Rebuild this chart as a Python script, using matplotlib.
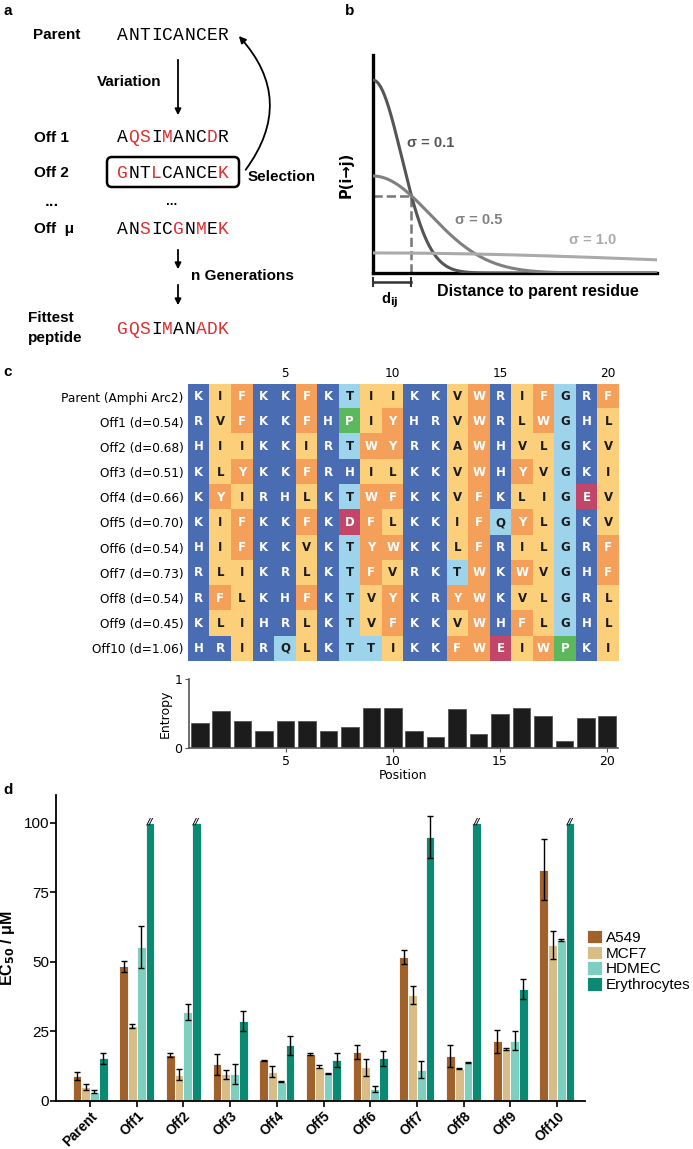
import numpy as np
import matplotlib.pyplot as plt
from matplotlib.patches import FancyArrowPatch, FancyBboxPatch

W, H = 693, 1149

# ---- panel a: evolution scheme ----
parent_seq = "ANTICANCER"
off1_seq = "AQSIMANCDR"
off2_seq = "GNTLCANCEK"
offmu_seq = "ANSICGNMEK"
fittest_seq = "GQSIMANADK"
# 1 = mutated residue (red)
parent_red = "0000000000"
off1_red = "0110100010"
off2_red = "1001000001"
offmu_red = "0010010101"
fittest_red = "1110100111"

# ---- panel b: sampling distributions ----
sigma_labels = ['σ = 0.1', 'σ = 0.5', 'σ = 1.0']
curve_peak = [0.885, 0.445, 0.092]
curve_width = [0.1, 0.2, 1.09]
curve_colors = ['#555555', '#808080', '#aaaaaa']

# ---- panel c: sequences ----
row_labels = ['Parent (Amphi Arc2)', 'Off1 (d=0.54)', 'Off2 (d=0.68)', 'Off3 (d=0.51)',
              'Off4 (d=0.66)', 'Off5 (d=0.70)', 'Off6 (d=0.54)', 'Off7 (d=0.73)',
              'Off8 (d=0.54)', 'Off9 (d=0.45)', 'Off10 (d=1.06)']
sequences = ["KIFKKFKTIIKKVWRIFGRF",
             "RVFKKFHPIYHRVWRLWGHL",
             "HIIKKIRTWYRKAWHVLGKV",
             "KLYKKFRHILKKVWHYVGKI",
             "KYIRHLKTWFKKVFKLIGEV",
             "KIFKKFKDFLKKIFQYLGKV",
             "HIFKKVKTYWKKLFRILGRF",
             "RLIKRLKTFVRKTWKWVGHF",
             "RFLKHFKTVYKRYWKVLGRL",
             "KLIHRLKTVFKKVWHFLGHL",
             "HRIRQLKTTIKKFWEIWPKI"]
entropy = [0.36, 0.54, 0.39, 0.25, 0.39, 0.39, 0.25, 0.30, 0.58, 0.58,
           0.25, 0.16, 0.56, 0.20, 0.50, 0.58, 0.47, 0.10, 0.43, 0.46]

# ---- panel d: EC50 ----
peptides = ['Parent', 'Off1', 'Off2', 'Off3', 'Off4', 'Off5', 'Off6', 'Off7', 'Off8', 'Off9', 'Off10']
cell_lines = ['A549', 'MCF7', 'HDMEC', 'Erythrocytes']
a549 = [9.0, 48.4, 16.5, 13.2, 14.6, 17.0, 17.6, 51.7, 16.3, 21.4, 83.2]
a549_err = [1.5, 2.0, 0.8, 3.8, 0.3, 0.3, 2.4, 2.5, 3.9, 4.2, 11.0]
mcf7 = [5.1, 27.0, 9.4, 9.6, 10.6, 12.3, 12.1, 38.1, 11.6, 18.6, 56.2]
mcf7_err = [1.0, 0.6, 2.0, 1.6, 2.0, 0.5, 3.0, 3.3, 0.2, 0.3, 5.0]
hdmec = [3.3, 55.4, 32.0, 9.7, 6.9, 9.9, 4.4, 11.3, 13.8, 21.6, 58.0]
hdmec_err = [0.5, 7.5, 3.0, 3.5, 0.2, 0.3, 1.0, 3.0, 0.3, 3.4, 0.4]
ery = [15.3, 100, 100, 28.8, 20.0, 14.7, 15.3, 95.0, 100, 40.2, 100]
ery_err = [2.0, 0, 0, 3.7, 3.5, 2.5, 2.6, 7.5, 0, 3.5, 0]
ery_capped = [0, 1, 1, 0, 0, 0, 0, 0, 1, 0, 1]   # beyond tested range (//)
bar_colors = ['#a0612a', '#d9bd88', '#7fcfc1', '#0a8a73']


def rect(x0, y0, x1, y1):
    return [x0 / W, 1 - y1 / H, (x1 - x0) / W, (y1 - y0) / H]


fig = plt.figure(figsize=(W / 100, H / 100), dpi=100)
arial = 'Liberation Sans'

for lab, (x, y) in zip('abcd', [(3, 11), (345, 11), (3, 372), (3, 790)]):
    fig.text(x / W, 1 - y / H, lab, fontsize=11, fontweight='bold', family=arial,
             ha='left', va='center')

# ================= panel a =================
axa = fig.add_axes(rect(0, 0, 340, 345))
axa.set_xlim(0, 340)
axa.set_ylim(345, 0)
axa.axis('off')

red = '#dd3030'
pitch = 11.2
seq_x0 = 117
rows_a = [(parent_seq, parent_red, 35), (off1_seq, off1_red, 138), (off2_seq, off2_red, 173),
          (offmu_seq, offmu_red, 229), (fittest_seq, fittest_red, 329)]
for seq, mask, y in rows_a:
    for i, (ch, m) in enumerate(zip(seq, mask)):
        axa.text(seq_x0 + (i + 0.5) * pitch, y, ch, family='Liberation Mono', fontsize=13,
                 color=red if m == '1' else 'black', ha='center', va='center')

lbl_kw = dict(fontsize=11, fontweight='bold', family=arial, va='center', ha='left')
axa.text(33, 35, 'Parent', **lbl_kw)
axa.text(34, 138, 'Off 1', **lbl_kw)
axa.text(34, 173, 'Off 2', **lbl_kw)
axa.text(34, 229, 'Off  μ', **lbl_kw)
axa.text(28, 318, 'Fittest', **lbl_kw)
axa.text(28, 338, 'peptide', **lbl_kw)
axa.text(97, 82, 'Variation', **lbl_kw)
axa.text(248, 177, 'Selection', **lbl_kw)
axa.text(191, 276, 'n Generations', **lbl_kw)
axa.text(52, 202, '...', fontsize=9, fontweight='bold', ha='center', va='center')
axa.text(172, 202, '...', fontsize=7, fontweight='bold', ha='center', va='center')

for y0, y1 in [(57, 118), (247, 272), (282, 308)]:
    axa.annotate('', xy=(178, y1), xytext=(178, y0),
                 arrowprops=dict(arrowstyle='-|>', color='black', lw=1.3, mutation_scale=9))

axa.add_patch(FancyBboxPatch((107, 157), 132, 30, boxstyle='round,pad=0,rounding_size=5',
                             fill=False, lw=1.8, ec='black'))
axa.add_patch(FancyArrowPatch((244, 172), (237, 34), connectionstyle='arc3,rad=0.42',
                              arrowstyle='-|>', mutation_scale=10, lw=1.3, color='black'))

# ================= panel b =================
axb = fig.add_axes(rect(373, 55, 657, 273))
xs = np.linspace(0, 1, 400)
curves = []
for pk, wd, col in zip(curve_peak, curve_width, curve_colors):
    yv = pk * np.exp(-xs ** 2 / (2 * wd ** 2))
    curves.append(yv)
    axb.plot(xs, yv, color=col, lw=2.2, zorder=3)
axb.set_xlim(0, 1)
axb.set_ylim(0, 1)
for s in ['top', 'right']:
    axb.spines[s].set_visible(False)
for s in ['left', 'bottom']:
    axb.spines[s].set_linewidth(2.4)
axb.set_xticks([])
axb.set_yticks([])

# where sigma=0.1 and sigma=0.5 cross
idx = np.where(np.diff(np.sign(curves[0] - curves[1])))[0][0]
xc, yc = xs[idx], curves[0][idx]
axb.plot([0, xc], [yc, yc], ls='--', color='#777777', lw=1.8, zorder=2)
axb.plot([xc, xc], [0, yc], ls='--', color='#777777', lw=1.8, zorder=2)
yb = -0.042
axb.plot([0, xc], [yb, yb], color='#333333', lw=1.8, clip_on=False)
for xe in [0, xc]:
    axb.plot([xe, xe], [yb - 0.017, yb + 0.017], color='#333333', lw=1.5, clip_on=False)
axb.text(0.06, -0.125, 'd$_{\\mathbf{ij}}$', fontsize=10.5, fontweight='bold', family=arial,
         ha='center', va='center')
axb.text(0.582, -0.083, 'Distance to parent residue', fontsize=11.5, fontweight='bold',
         family=arial, ha='center', va='center')
axb.text(-0.095, 0.45, 'P(i→j)', fontsize=10.5, fontweight='bold', rotation=90,
         ha='center', va='center')
lab_pos = [(0.12, 0.596), (0.29, 0.243), (0.69, 0.151)]
for lab, (x, y), col in zip(sigma_labels, lab_pos, curve_colors):
    axb.text(x, y, lab, color=col, fontsize=10.5, fontweight='bold', family=arial,
             ha='left', va='center')

# ================= panel c =================
res_class = {}
for ch in 'KRH':
    res_class[ch] = ('#4a6cb3', 'white')
for ch in 'ILVAM':
    res_class[ch] = ('#fcd07a', '#1a1a1a')
for ch in 'FWY':
    res_class[ch] = ('#f4a05a', 'white')
for ch in 'TGQSNC':
    res_class[ch] = ('#9dd4ec', '#1a1a1a')
res_class['P'] = ('#5cb85c', 'white')
for ch in 'DE':
    res_class[ch] = ('#c2456a', 'white')

axc = fig.add_axes(rect(188, 384, 619, 661))
nrow, ncol = len(sequences), len(sequences[0])
rgb = np.zeros((nrow, ncol, 3))
for r, seq in enumerate(sequences):
    for c, ch in enumerate(seq):
        rgb[r, c] = plt.matplotlib.colors.to_rgb(res_class[ch][0])
        axc.text(c, r, ch, ha='center', va='center', fontsize=8.5, fontweight='bold',
                 color=res_class[ch][1])
axc.imshow(rgb, aspect='auto', interpolation='nearest')
axc.set_yticks(range(nrow))
axc.set_yticklabels(row_labels, fontsize=8.7)
axc.xaxis.tick_top()
axc.set_xticks([4, 9, 14, 19])
axc.set_xticklabels(['5', '10', '15', '20'], fontsize=8.7)
axc.tick_params(length=0, pad=3)
for s in axc.spines.values():
    s.set_visible(False)

axe = fig.add_axes(rect(189, 679, 618, 748))
positions = np.arange(1, ncol + 1)
axe.bar(positions, entropy, width=0.82, color='#1c1c1c', edgecolor='#555555', lw=0.6)
axe.set_xlim(0.5, 20.5)
axe.set_ylim(0, 1)
axe.set_yticks([0, 1])
axe.set_xticks([5, 10, 15, 20])
axe.tick_params(labelsize=9, length=3, color='#555555', pad=2)
for s in ['top', 'right']:
    axe.spines[s].set_visible(False)
for s in ['left', 'bottom']:
    axe.spines[s].set_color('#555555')
    axe.spines[s].set_linewidth(1.2)
axe.set_ylabel('Entropy', fontsize=9, labelpad=2)
axe.set_xlabel('Position', fontsize=9, labelpad=1)

# ================= panel d =================
axd = fig.add_axes(rect(56, 795, 585, 1101))
xg = np.arange(len(peptides))
bw = 0.1875
series = [(a549, a549_err), (mcf7, mcf7_err), (hdmec, hdmec_err), (ery, ery_err)]
for k, ((vals, errs), col, name) in enumerate(zip(series, bar_colors, cell_lines)):
    xpos = xg + (k - 1.5) * bw
    vals = np.array(vals, dtype=float)
    errs = np.array(errs, dtype=float)
    axd.bar(xpos, vals, width=bw, color=col, edgecolor='white', lw=0.6, label=name)
    m = errs > 0
    axd.errorbar(xpos[m], vals[m], yerr=errs[m], fmt='none', ecolor='black',
                 elinewidth=1.0, capsize=2, capthick=1.0)
    if name == 'Erythrocytes':
        for xp, v, cap in zip(xpos, vals, ery_capped):
            if cap:
                axd.text(xp, v + 0.3, '//', fontsize=6.5, fontweight='bold', style='italic',
                         ha='center', va='center')
axd.set_xlim(-0.73, 10.6)
axd.set_ylim(0, 110)
axd.set_yticks([0, 25, 50, 75, 100])
axd.set_xticks(xg)
axd.set_xticklabels(peptides, rotation=45, ha='right', rotation_mode='anchor',
                    fontweight='bold', family=arial, fontsize=9.8)
for t in axd.get_yticklabels():
    t.set_family(arial)
axd.tick_params(axis='y', labelsize=11, pad=1)
axd.tick_params(axis='x', pad=2)
axd.tick_params(length=4, width=1.2)
for s in ['top', 'right']:
    axd.spines[s].set_visible(False)
for s in ['left', 'bottom']:
    axd.spines[s].set_linewidth(1.3)
axd.set_ylabel('EC$_{\\mathbf{50}}$ / μM', fontsize=11.5, fontweight='bold', family=arial)
axd.yaxis.set_label_coords((17 - 56) / 529, 0.5)
axd.legend(loc='center left', bbox_to_anchor=(587 / W, 1 - 961 / H),
           bbox_transform=fig.transFigure, frameon=False,
           prop={'family': arial, 'size': 11}, handlelength=1.0, handleheight=1.0,
           handletextpad=0.25, labelspacing=0.05, borderpad=0, borderaxespad=0)

fig.savefig('out.png', dpi=100)
